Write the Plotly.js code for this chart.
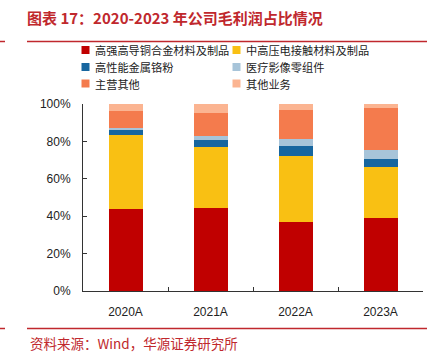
<!DOCTYPE html>
<html>
<head>
<meta charset="utf-8">
<script src="https://cdn.plot.ly/plotly-3.0.1.min.js"></script>
<style>html,body{margin:0;padding:0;background:#fff;}#chart{width:434px;height:356px;}</style>
</head>
<body>
<div id="chart"></div>
<script>
const categories = ['2020A', '2021A', '2022A', '2023A'];
const seriesNames = ['高强高导铜合金材料及制品', '中高压电接触材料及制品', '高性能金属铬粉', '医疗影像零组件', '主营其他', '其他业务'];
const copperAlloy = [44.0, 44.6, 36.9, 39.3];
const contactMaterial = [39.6, 32.2, 35.1, 26.8];
const chromiumPowder = [2.7, 3.9, 5.4, 4.5];
const medicalParts = [0.7, 2.0, 4.1, 4.6];
const mainOther = [9.3, 12.7, 15.3, 22.9];
const otherBusiness = [3.7, 4.6, 3.2, 1.9];
const seriesValues = [copperAlloy, contactMaterial, chromiumPowder, medicalParts, mainOther, otherBusiness];
const colors = ['#C00000', '#F9C013', '#17669F', '#A7C4D9', '#F47B4D', '#FBB491'];

const W = 434, H = 356;
const L = 83, R = 11, T = 104, B = 65;
const pw = W - L - R, ph = H - T - B;
const px = x => (x - L) / pw;
const py = y => (H - B - y) / ph;

const traces = seriesNames.map((n, i) => ({
  type: 'bar',
  name: n,
  x: categories,
  y: seriesValues[i],
  marker: {color: colors[i], line: {width: 0}},
  hoverinfo: 'skip'
}));

const red = '#C0282D';

// legend drawn as a two-column grid of squares and labels
const legendColX = [81.5, 232.5];
const legendRowY = [50, 67, 83.5];
const legendShapes = [];
const legendLabels = [];
seriesNames.forEach((n, i) => {
  const cx = legendColX[i % 2], cy = legendRowY[Math.floor(i / 2)];
  legendShapes.push({
    type: 'rect', xref: 'paper', yref: 'paper',
    x0: px(cx), x1: px(cx + 8), y0: py(cy - 4), y1: py(cy + 4),
    fillcolor: colors[i], line: {width: 0}
  });
  legendLabels.push({
    text: n, xref: 'paper', yref: 'paper',
    x: px(cx + 11.5), xanchor: 'left',
    y: py(cy), yanchor: 'middle',
    showarrow: false,
    font: {family: '"Noto Sans CJK SC", sans-serif', size: 11.2, color: '#222'}
  });
});

const layout = {
  width: W, height: H,
  margin: {l: L, r: R, t: T, b: B, pad: 0},
  paper_bgcolor: '#fff', plot_bgcolor: '#fff',
  barmode: 'stack',
  bargap: 0.6,
  showlegend: false,
  font: {family: 'Arial, "Liberation Sans", sans-serif', color: '#333'},
  xaxis: {
    type: 'category',
    showline: true, linecolor: '#333', linewidth: 1,
    tickson: 'boundaries',
    ticks: 'inside', ticklen: 4, tickcolor: '#333',
    tickfont: {size: 12, color: '#222'},
    ticklabelstandoff: 10,
    showgrid: false, zeroline: false,
    fixedrange: true
  },
  yaxis: {
    range: [0, 100],
    dtick: 20, tick0: 0,
    ticksuffix: '%',
    showline: true, linecolor: '#333', linewidth: 1,
    ticks: 'inside', ticklen: 4, tickcolor: '#333',
    tickfont: {size: 12, color: '#222'},
    ticklabelstandoff: 9,
    showgrid: false, zeroline: false,
    fixedrange: true
  },
  title: {
    text: '图表 17：2020-2023 年公司毛利润占比情况',
    xref: 'container', yref: 'container',
    x: 27 / W, xanchor: 'left',
    y: 1 - 19 / H, yanchor: 'middle',
    font: {family: '"Noto Sans CJK SC", sans-serif', size: 15, color: red, weight: 'bold'}
  },
  shapes: [
    {type: 'line', xref: 'paper', yref: 'paper', x0: px(27), x1: px(427), y0: py(41.5), y1: py(41.5), line: {color: red, width: 1.5}},
    {type: 'line', xref: 'paper', yref: 'paper', x0: px(0), x1: px(5), y0: py(41.5), y1: py(41.5), line: {color: red, width: 1.5}},
    {type: 'line', xref: 'paper', yref: 'paper', x0: px(27), x1: px(427), y0: py(328.5), y1: py(328.5), line: {color: red, width: 1.5}},
    {type: 'line', xref: 'paper', yref: 'paper', x0: px(0), x1: px(5), y0: py(328.5), y1: py(328.5), line: {color: red, width: 1.5}}
  ].concat(legendShapes),
  annotations: [
    {
      text: '资料来源：Wind，华源证券研究所',
      xref: 'paper', yref: 'paper',
      x: px(28), xanchor: 'left',
      y: py(343), yanchor: 'middle',
      showarrow: false,
      font: {family: '"Noto Sans CJK SC", sans-serif', size: 13.5, color: red}
    }
  ].concat(legendLabels)
};

Plotly.newPlot('chart', traces, layout, {displayModeBar: false, staticPlot: true});
</script>
</body>
</html>
